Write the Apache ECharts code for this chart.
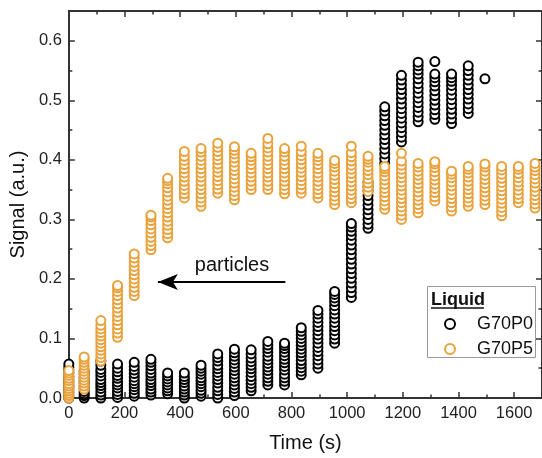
<!DOCTYPE html>
<html>
<head>
<meta charset="utf-8">
<script src="https://cdn.jsdelivr.net/npm/echarts@6/dist/echarts.min.js"></script>
<style>html,body{margin:0;padding:0;background:#fff;}#c{width:542px;height:458px;}</style>
</head>
<body>
<div id="c"></div>
<script>
// Measurement times (s) for each column of points
const timesP0 = [0,55,115,175,235,295,355,415,475,535,595,655,715,775,835,895,955,1015,1075,1135,1195,1255,1315,1375,1435,1495];
const timesP5 = [0,55,115,175,235,295,355,415,475,535,595,655,715,775,835,895,955,1015,1075,1135,1195,1255,1315,1375,1435,1495,1555,1615,1675];

// Signal values (a.u.) read per column, liquid G70P0
const signalP0 = [
  [0.000,0.004,0.009,0.013,0.018,0.022,0.027,0.031,0.036,0.042,0.047,0.052,0.057],
  [0.000,0.004,0.007,0.011,0.016,0.020,0.025,0.029,0.034,0.040,0.045],
  [0.000,0.005,0.010,0.016,0.021,0.026,0.031,0.037,0.043,0.048,0.055,0.062],
  [0.001,0.006,0.011,0.017,0.022,0.027,0.033,0.038,0.044,0.050,0.057],
  [0.003,0.008,0.014,0.019,0.024,0.029,0.035,0.041,0.047,0.053,0.060],
  [0.005,0.010,0.015,0.021,0.026,0.031,0.037,0.042,0.048,0.054,0.060,0.065],
  [0.007,0.012,0.017,0.022,0.027,0.032,0.037,0.042],
  [0.000,0.005,0.010,0.015,0.020,0.026,0.031,0.036,0.042],
  [0.003,0.008,0.013,0.019,0.024,0.029,0.034,0.040,0.045,0.050,0.055],
  [0.000,0.006,0.012,0.018,0.025,0.031,0.037,0.043,0.049,0.055,0.062,0.068,0.074],
  [0.004,0.010,0.016,0.022,0.028,0.034,0.040,0.046,0.052,0.058,0.064,0.070,0.076,0.082],
  [0.012,0.018,0.024,0.030,0.036,0.043,0.049,0.055,0.061,0.067,0.074,0.081],
  [0.022,0.028,0.034,0.040,0.046,0.052,0.058,0.064,0.070,0.077,0.083,0.089,0.095],
  [0.022,0.028,0.034,0.040,0.047,0.053,0.059,0.065,0.071,0.077,0.083,0.088,0.092],
  [0.039,0.045,0.051,0.057,0.063,0.070,0.076,0.082,0.088,0.094,0.100,0.106,0.112,0.118],
  [0.050,0.057,0.064,0.071,0.078,0.085,0.092,0.099,0.106,0.113,0.120,0.127,0.134,0.141,0.147],
  [0.092,0.099,0.106,0.113,0.120,0.127,0.134,0.141,0.148,0.155,0.162,0.168,0.174,0.179],
  [0.169,0.177,0.185,0.193,0.201,0.209,0.217,0.225,0.233,0.241,0.249,0.257,0.265,0.273,0.280,0.287,0.293],
  [0.285,0.292,0.300,0.308,0.316,0.324,0.332,0.340,0.348,0.355,0.362],
  [0.394,0.402,0.410,0.418,0.426,0.434,0.442,0.450,0.458,0.466,0.474,0.482,0.489],
  [0.430,0.438,0.446,0.454,0.462,0.470,0.478,0.486,0.494,0.502,0.510,0.518,0.526,0.534,0.542],
  [0.464,0.472,0.480,0.488,0.496,0.504,0.512,0.520,0.528,0.536,0.544,0.551,0.558,0.564],
  [0.468,0.476,0.484,0.492,0.500,0.508,0.516,0.524,0.531,0.538,0.544,0.565],
  [0.461,0.469,0.477,0.485,0.493,0.501,0.509,0.517,0.525,0.532,0.538,0.544],
  [0.478,0.486,0.494,0.502,0.510,0.518,0.526,0.534,0.542,0.550,0.558],
  [0.536]
];

// Signal values (a.u.) read per column, liquid G70P5
const signalP5 = [
  [0.000,0.004,0.008,0.012,0.016,0.020,0.024,0.029,0.033,0.038,0.042,0.046],
  [0.015,0.020,0.025,0.030,0.035,0.040,0.045,0.050,0.055,0.060,0.065,0.069],
  [0.062,0.068,0.074,0.080,0.086,0.092,0.098,0.104,0.110,0.116,0.122,0.130],
  [0.102,0.109,0.116,0.123,0.130,0.137,0.144,0.151,0.158,0.165,0.172,0.179,0.185,0.189],
  [0.172,0.179,0.186,0.193,0.200,0.207,0.214,0.221,0.228,0.235,0.242],
  [0.249,0.256,0.263,0.270,0.277,0.284,0.291,0.298,0.304,0.307],
  [0.269,0.276,0.283,0.290,0.297,0.304,0.311,0.318,0.325,0.332,0.339,0.346,0.353,0.360,0.365,0.369],
  [0.336,0.343,0.350,0.357,0.364,0.371,0.378,0.385,0.392,0.399,0.406,0.414],
  [0.322,0.329,0.336,0.343,0.350,0.357,0.364,0.371,0.378,0.385,0.392,0.399,0.406,0.413,0.419],
  [0.344,0.351,0.358,0.365,0.372,0.379,0.386,0.393,0.400,0.407,0.414,0.421,0.428],
  [0.333,0.340,0.347,0.354,0.361,0.368,0.375,0.382,0.389,0.396,0.403,0.410,0.416,0.422],
  [0.350,0.357,0.364,0.371,0.378,0.385,0.392,0.399,0.405,0.411],
  [0.350,0.357,0.364,0.371,0.378,0.385,0.392,0.399,0.406,0.413,0.420,0.427,0.436],
  [0.343,0.350,0.357,0.364,0.371,0.378,0.385,0.392,0.399,0.406,0.413,0.419],
  [0.344,0.351,0.358,0.365,0.372,0.379,0.386,0.393,0.400,0.407,0.414,0.423],
  [0.336,0.343,0.350,0.357,0.364,0.371,0.378,0.385,0.392,0.399,0.405,0.411],
  [0.325,0.332,0.339,0.346,0.353,0.360,0.367,0.374,0.381,0.388,0.394,0.399],
  [0.328,0.335,0.342,0.349,0.356,0.363,0.370,0.377,0.384,0.391,0.398,0.405,0.412,0.423],
  [0.347,0.354,0.361,0.368,0.375,0.382,0.389,0.396,0.401,0.406],
  [0.317,0.324,0.331,0.338,0.345,0.352,0.359,0.366,0.373,0.380,0.385,0.389],
  [0.300,0.307,0.314,0.321,0.328,0.335,0.342,0.349,0.356,0.363,0.370,0.377,0.384,0.391,0.398,0.411],
  [0.311,0.318,0.325,0.332,0.339,0.346,0.353,0.360,0.367,0.374,0.381,0.388,0.394],
  [0.331,0.338,0.345,0.352,0.359,0.366,0.373,0.380,0.387,0.393,0.397],
  [0.314,0.321,0.328,0.335,0.342,0.349,0.356,0.363,0.370,0.376,0.381],
  [0.322,0.329,0.336,0.343,0.350,0.357,0.364,0.371,0.378,0.384,0.389],
  [0.325,0.332,0.339,0.346,0.353,0.360,0.367,0.374,0.381,0.388,0.393],
  [0.306,0.313,0.320,0.327,0.334,0.341,0.348,0.355,0.362,0.369,0.376,0.383,0.389],
  [0.328,0.335,0.342,0.349,0.356,0.363,0.370,0.377,0.384,0.389],
  [0.319,0.326,0.333,0.340,0.347,0.354,0.361,0.368,0.375,0.382,0.388,0.394]
];

const seriesNames = ['G70P0','G70P5'];
const legendTitle = 'Liquid';
const annotationText = 'particles';
const arrowFrom = [778, 0.195];
const arrowTo = [320, 0.195];

function build(times, cols){
  const out = [];
  cols.forEach((vals, i) => vals.forEach(v => out.push([times[i], v])));
  return out;
}

const FONT = '"Liberation Sans", Arial, sans-serif';
const AX = '#333333';
const ORANGE = '#E9A23B';

const chart = echarts.init(document.getElementById('c'), null, {renderer:'canvas'});

const axisCommon = {
  axisLine:{show:true, onZero:false, lineStyle:{color:AX, width:2}},
  axisTick:{show:true, inside:true, length:6, lineStyle:{color:AX, width:1.5}},
  minorTick:{show:true, splitNumber:2, length:3.5, lineStyle:{color:AX, width:1.5}},
  splitLine:{show:false}
};

chart.setOption({
  animation:false,
  backgroundColor:'#fff',
  grid:{left:65, top:11, width:483, height:389, containLabel:false},
  xAxis:[
    Object.assign({type:'value', min:0, max:1700, interval:200, position:'bottom',
      name:'Time (s)', nameLocation:'middle', nameGap:35,
      nameTextStyle:{fontFamily:FONT, fontSize:20, color:'#111'},
      axisLabel:{fontFamily:FONT, fontSize:16.5, color:'#222', margin:7, showMaxLabel:false,
        formatter:v=>String(v)}
    }, axisCommon),
    Object.assign({type:'value', min:0, max:1700, interval:200, position:'top',
      axisLabel:{show:false}}, axisCommon)
  ],
  yAxis:[
    Object.assign({type:'value', min:0, max:0.65, interval:0.1, position:'left',
      name:'Signal (a.u.)', nameLocation:'middle', nameGap:32, nameRotate:90,
      nameTextStyle:{fontFamily:FONT, fontSize:20, color:'#111'},
      axisLabel:{fontFamily:FONT, fontSize:16.5, color:'#222', margin:7, showMaxLabel:false,
        formatter:v=>v.toFixed(1)}
    }, axisCommon),
    Object.assign({type:'value', min:0, max:0.65, interval:0.1, position:'right',
      axisLabel:{show:false}}, axisCommon)
  ],
  legend:{
    orient:'vertical', left:439, top:310, itemWidth:10, itemHeight:10, itemGap:7,
    selectedMode:false, z:20,
    textStyle:{fontFamily:FONT, fontSize:18, color:'#111', lineHeight:16, padding:[0,0,0,17]},
    data:[
      {name:seriesNames[0], icon:'circle', itemStyle:{color:'#fff', borderColor:'#000', borderWidth:2}},
      {name:seriesNames[1], icon:'circle', itemStyle:{color:'#fff', borderColor:ORANGE, borderWidth:2}}
    ]
  },
  graphic:[
    {type:'rect', shape:{x:427.5, y:286.5, width:108, height:71},
     style:{fill:'#fff', stroke:'#9a9a9a', lineWidth:1}, z:10},
    {type:'text', x:431, y:300, z:30,
     style:{text:legendTitle, font:'bold 18px "Liberation Sans", Arial, sans-serif', fill:'#111', textVerticalAlign:'middle'}},
    {type:'line', shape:{x1:431, y1:308, x2:484, y2:308}, style:{stroke:'#111', lineWidth:1.5}, z:30},
    {type:'text', x:232, y:265, z:30,
     style:{text:annotationText, font:'20px "Liberation Sans", Arial, sans-serif', fill:'#111', textAlign:'center', textVerticalAlign:'middle'}}
  ],
  series:[
    {name:seriesNames[0], type:'scatter', clip:false, symbol:'circle', symbolSize:9,
     itemStyle:{color:'#fff', borderColor:'#000', borderWidth:2, opacity:1},
     data:build(timesP0, signalP0),
     markLine:{silent:true, symbol:['none','arrow'], symbolSize:[12,20],
       label:{show:false}, lineStyle:{color:'#000', width:2, type:'solid'},
       data:[[{coord:arrowFrom},{coord:arrowTo}]]},
     z:2},
    {name:seriesNames[1], type:'scatter', clip:false, symbol:'circle', symbolSize:9,
     itemStyle:{color:'#fff', borderColor:ORANGE, borderWidth:2, opacity:1},
     data:build(timesP5, signalP5), z:3}
  ]
});
</script>
</body>
</html>
